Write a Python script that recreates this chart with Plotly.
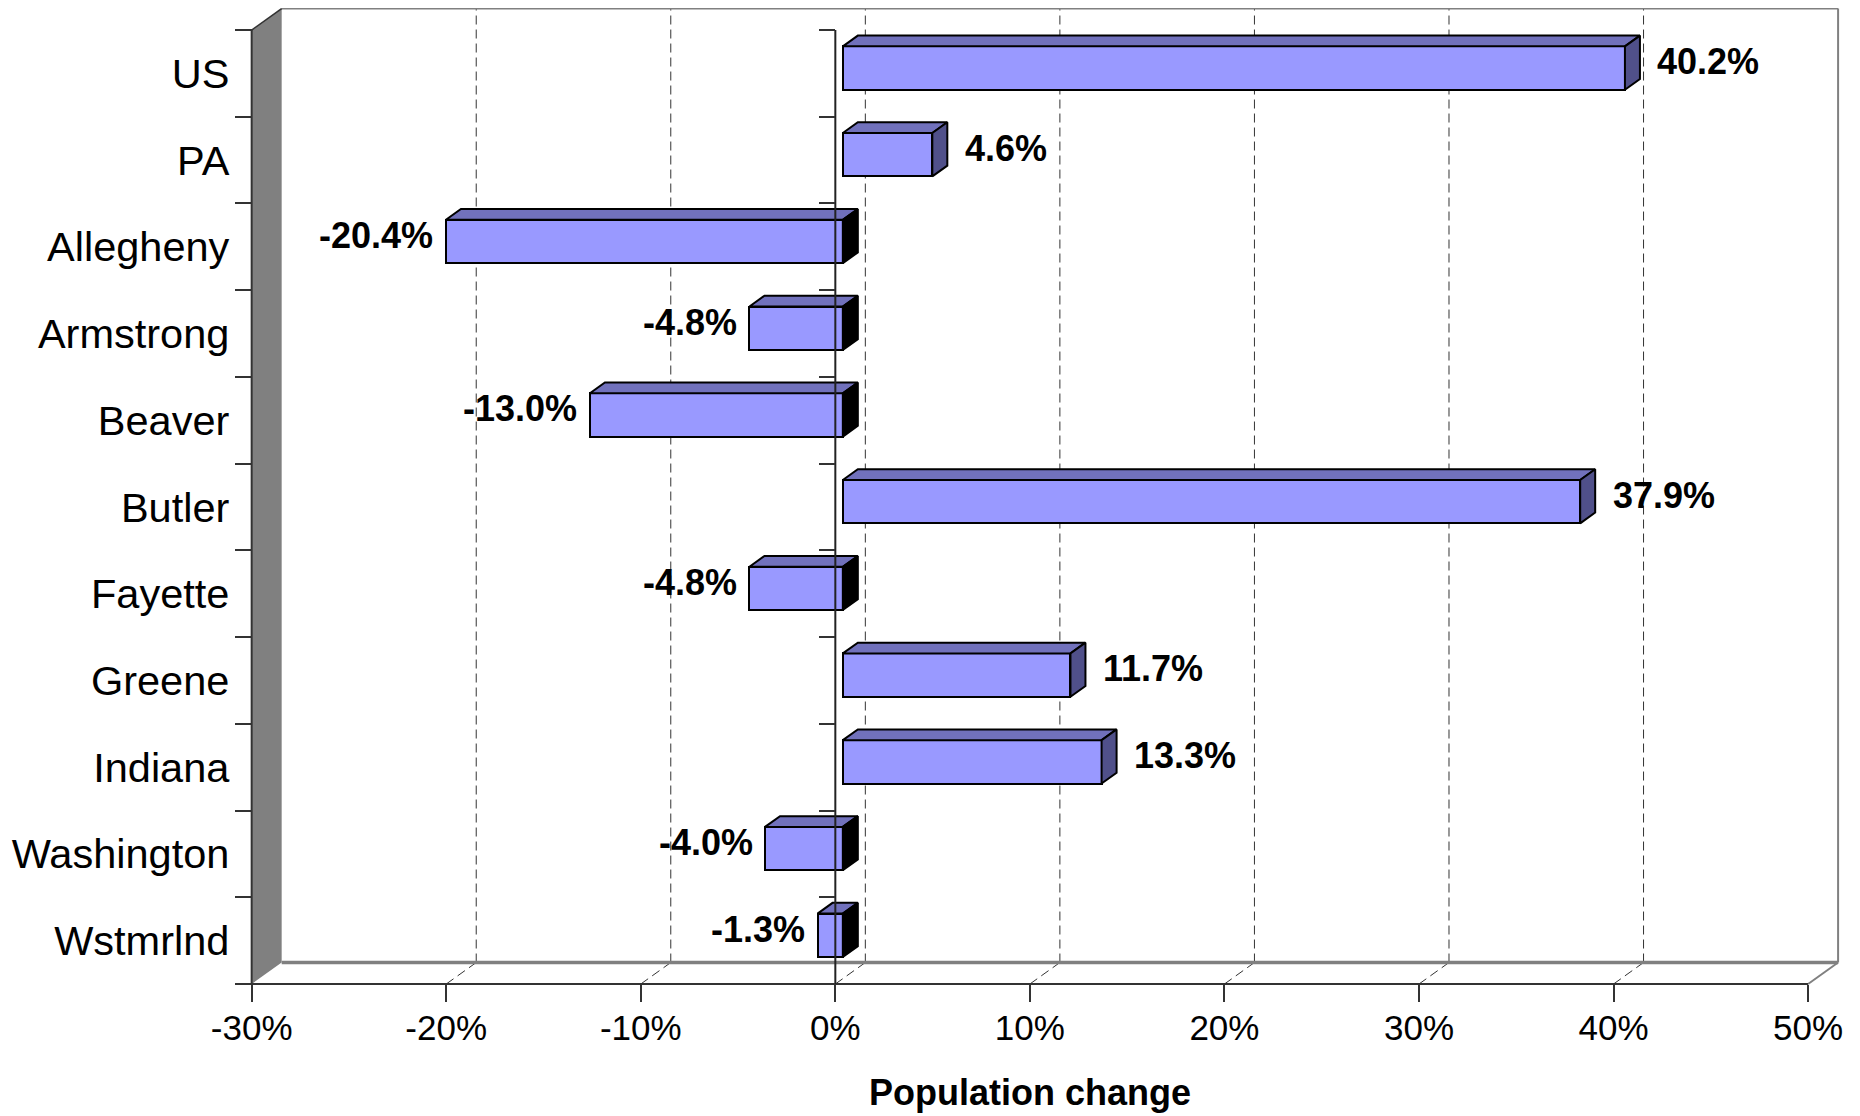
import plotly.graph_objects as go

# ---------------- data ----------------
categories = ["US", "PA", "Allegheny", "Armstrong", "Beaver", "Butler",
              "Fayette", "Greene", "Indiana", "Washington", "Wstmrlnd"]
values = [40.2, 4.6, -20.4, -4.8, -13.0, 37.9, -4.8, 11.7, 13.3, -4.0, -1.3]
x_ticks = [-30, -20, -10, 0, 10, 20, 30, 40, 50]
x_tick_labels = [f"{t}%" for t in x_ticks]
x_title = "Population change"

# ---------------- geometry / style ----------------
W, H = 1852, 1108
ML, MR, MT, MB = 232, 20, 0, 122
X_RANGE = [-30.6, 51.64]
Y_RANGE = [-0.615, 10.754]
PW, PH = W - ML - MR, H - MT - MB
PXX = PW / (X_RANGE[1] - X_RANGE[0])
PXY = PH / (Y_RANGE[1] - Y_RANGE[0])
DX = 30 / PXX          # depth offset in x data units
DY = 21.5 / PXY        # depth offset in y data units
XMIN, XMAX = x_ticks[0], x_ticks[-1]
n = len(categories)
YB, YT = -0.5, n - 0.5
ypos = [n - 1 - i for i in range(n)]
D0, D1, HALF = 0.25, 0.75, 0.25
ox, oy = D0 * DX, D0 * DY
ddx, ddy = (D1 - D0) * DX, (D1 - D0) * DY

FONT = "Arial, 'Liberation Sans', sans-serif"
FRONT, TOP, SIDE_POS, SIDE_NEG = "#9999FF", "#7171BC", "#50508A", "#000000"
WALL = "#808080"
DARK = "#333333"

fig = go.Figure()

# front faces of bars
fig.add_trace(go.Bar(
    orientation="h", y=[c + oy for c in ypos], x=values, base=ox,
    width=2 * HALF, marker=dict(color=FRONT, line=dict(color="black", width=2)),
    hoverinfo="skip", showlegend=False))

# top faces
tx, ty = [], []
for v, c in zip(values, ypos):
    yt = c + HALF + oy
    tx += [ox, v + ox, v + ox + ddx, ox + ddx, ox, None]
    ty += [yt, yt, yt + ddy, yt + ddy, yt, None]
fig.add_trace(go.Scatter(x=tx, y=ty, mode="lines", fill="toself", fillcolor=TOP,
                         line=dict(color="black", width=2), hoverinfo="skip",
                         showlegend=False))

# end (side) faces
for sign, col in ((1, SIDE_POS), (-1, SIDE_NEG)):
    sx, sy = [], []
    for v, c in zip(values, ypos):
        if (v > 0) != (sign > 0):
            continue
        xe = v + ox if v > 0 else ox
        yb, yt = c - HALF + oy, c + HALF + oy
        sx += [xe, xe + ddx, xe + ddx, xe, xe, None]
        sy += [yb, yb + ddy, yt + ddy, yt, yb, None]
    fig.add_trace(go.Scatter(x=sx, y=sy, mode="lines", fill="toself", fillcolor=col,
                             line=dict(color="black", width=2), hoverinfo="skip",
                             showlegend=False))

# zero (category) axis line on the front plane
fig.add_trace(go.Scatter(x=[0, 0], y=[YB, YT], mode="lines",
                         line=dict(color="#222222", width=2), hoverinfo="skip",
                         showlegend=False))

# dummy traces for tick-only axes
fig.add_trace(go.Scatter(x=[None], y=[None], yaxis="y2", showlegend=False))
fig.add_trace(go.Scatter(x=[None], y=[None], yaxis="y3", showlegend=False))

# ---------------- walls, floor, gridlines (shapes below traces) ----------------
shapes = []
for t in x_ticks[1:-1]:
    shapes.append(dict(type="line", xref="x", yref="y", layer="below",
                       x0=t + DX, y0=YB + DY, x1=t + DX, y1=YT + DY,
                       line=dict(color=DARK, width=1, dash="9px,5px")))
    shapes.append(dict(type="line", xref="x", yref="y", layer="below",
                       x0=t, y0=YB, x1=t + DX, y1=YB + DY,
                       line=dict(color=DARK, width=1, dash="9px,5px")))
shapes.append(dict(type="path", xref="x", yref="y", layer="below",
                   path=f"M {XMIN} {YT} L {XMIN + DX} {YT + DY} L {XMIN + DX} {YB + DY} L {XMIN} {YB} Z",
                   fillcolor=WALL, line=dict(width=0)))
shapes.append(dict(type="line", xref="x", yref="y", layer="below",
                   x0=XMIN + DX, y0=YT + DY, x1=XMAX + DX, y1=YT + DY,
                   line=dict(color=WALL, width=2)))
shapes.append(dict(type="line", xref="x", yref="y", layer="below",
                   x0=XMAX + DX, y0=YT + DY, x1=XMAX + DX, y1=YB + DY,
                   line=dict(color=WALL, width=2)))
shapes.append(dict(type="line", xref="x", yref="y", layer="below",
                   x0=XMIN + DX, y0=YB + DY, x1=XMAX + DX, y1=YB + DY,
                   line=dict(color=WALL, width=3.5)))
shapes.append(dict(type="line", xref="x", yref="y", layer="below",
                   x0=XMAX, y0=YB, x1=XMAX + DX, y1=YB + DY,
                   line=dict(color=WALL, width=2)))
shapes.append(dict(type="line", xref="x", yref="y", layer="below",
                   x0=XMIN, y0=YB, x1=XMAX, y1=YB,
                   line=dict(color=DARK, width=2)))
shapes.append(dict(type="line", xref="x", yref="y", layer="below",
                   x0=XMIN, y0=YB, x1=XMIN, y1=YT,
                   line=dict(color=DARK, width=2)))
shapes.append(dict(type="line", xref="x", yref="y", layer="below",
                   x0=XMIN, y0=YT, x1=XMIN + DX, y1=YT + DY,
                   line=dict(color=DARK, width=1.5)))

# ---------------- data labels ----------------
annotations = []
for v, c in zip(values, ypos):
    annotations.append(dict(
        x=v, y=c, xref="x", yref="y", text=f"{v:.1f}%", showarrow=False,
        xanchor="left" if v > 0 else "right", yanchor="middle",
        xshift=38 if v > 0 else -3, yshift=11.5,
        font=dict(family=FONT, size=36, color="black", weight="bold")))
annotations.append(dict(
    x=(XMIN + XMAX) / 2, y=(PH - 1084) / PH, xref="x", yref="paper",
    text=x_title, showarrow=False, xanchor="center", yanchor="middle",
    font=dict(family=FONT, size=36, color="black", weight="bold")))

pos_y_left = (XMIN - X_RANGE[0]) / (X_RANGE[1] - X_RANGE[0])
pos_y_zero = (0 - X_RANGE[0]) / (X_RANGE[1] - X_RANGE[0])
pos_x_axis = (YB - Y_RANGE[0]) / (Y_RANGE[1] - Y_RANGE[0])
boundaries = [k - 0.5 for k in range(n + 1)]

fig.update_layout(
    width=W, height=H,
    margin=dict(l=ML, r=MR, t=MT, b=MB, pad=0),
    paper_bgcolor="white", plot_bgcolor="white",
    showlegend=False, bargap=0,
    font=dict(family=FONT, color="black"),
    xaxis=dict(range=X_RANGE, anchor="free", position=pos_x_axis,
               tickvals=x_ticks, ticktext=x_tick_labels, ticks="outside",
               ticklen=17, tickwidth=1.5, tickcolor=DARK, ticklabelstandoff=-4,
               tickfont=dict(family=FONT, size=35, color="black"),
               showgrid=False, zeroline=False, showline=False, fixedrange=True),
    yaxis=dict(range=Y_RANGE, anchor="free", position=pos_y_left,
               tickvals=ypos, ticktext=categories, ticks="outside", ticklen=14,
               tickcolor="rgba(0,0,0,0)",
               tickfont=dict(family=FONT, size=41.5, color="black"),
               showgrid=False, zeroline=False, showline=False, fixedrange=True),
    yaxis2=dict(range=Y_RANGE, overlaying="y", anchor="free", position=pos_y_left,
                side="left", tickvals=boundaries, ticks="outside", ticklen=17,
                tickwidth=1.5, tickcolor=DARK, showticklabels=False,
                showgrid=False, zeroline=False, showline=False, fixedrange=True),
    yaxis3=dict(range=Y_RANGE, overlaying="y", anchor="free", position=pos_y_zero,
                side="left", tickvals=boundaries, ticks="outside", ticklen=16,
                tickwidth=1.5, tickcolor=DARK, showticklabels=False,
                showgrid=False, zeroline=False, showline=False, fixedrange=True),
    shapes=shapes, annotations=annotations,
)

fig.write_html("out.html")
